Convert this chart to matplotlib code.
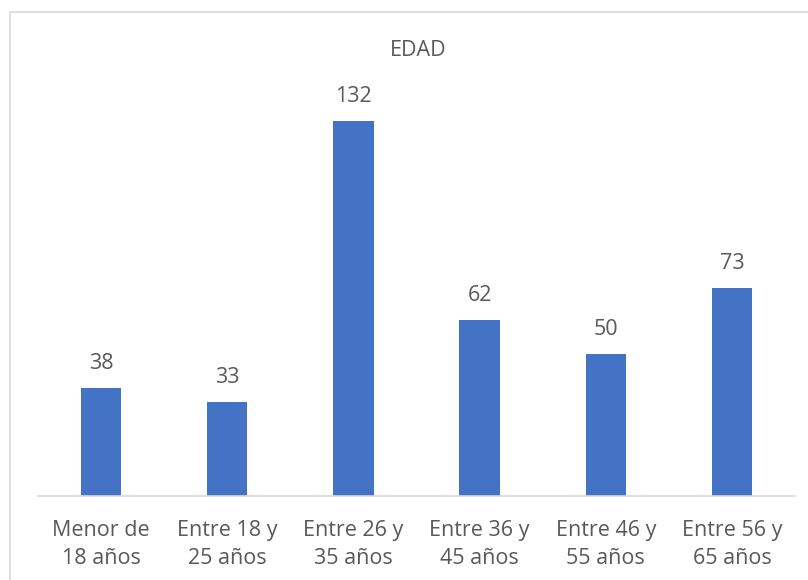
import matplotlib.pyplot as plt
from matplotlib.patches import Rectangle

# === DATA ===
categories = ["Menor de\n18 años", "Entre 18 y\n25 años", "Entre 26 y\n35 años",
              "Entre 36 y\n45 años", "Entre 46 y\n55 años", "Entre 56 y\n65 años"]
values = [38, 33, 132, 62, 50, 73]

W, H = 808, 580
plt.rcParams["font.family"] = ["Open Sans", "DejaVu Sans"]
TEXT = "#595959"
FS = 15.5

fig = plt.figure(figsize=(W / 100, H / 100), dpi=100)
# chart frame, running off the right and bottom edges
fig.patches.append(Rectangle((10 / W, -0.1), 1, 1.1 - 12 / H, transform=fig.transFigure,
                             fill=False, edgecolor="#d9d9d9", linewidth=1.2))

ax = fig.add_axes([38 / W, 84 / H, (795 - 38) / W, 398 / H])
x = range(len(categories))
bars = ax.bar(x, values, width=0.32, color="#4472C4")
ax.set_xlim(-0.5, len(categories) - 0.5)
ax.set_ylim(0, 140)

for bar in bars:
    h = bar.get_height()
    ax.text(bar.get_x() + bar.get_width() / 2, h + 5, f"{int(h)}",
            ha="center", va="bottom", fontsize=FS, color=TEXT)

ax.set_xticks(list(x))
ax.set_xticklabels(categories, fontsize=FS, color=TEXT, linespacing=1.45)
ax.tick_params(axis="x", length=0, pad=17)
ax.set_yticks([])
for side in ["top", "right", "left"]:
    ax.spines[side].set_visible(False)
ax.spines["bottom"].set_color("#d9d9d9")
ax.spines["bottom"].set_linewidth(1.2)

fig.text(418 / W, 1 - 51 / H, "EDAD", ha="center", va="center", fontsize=FS, color=TEXT)

fig.savefig("out.png", dpi=100)
